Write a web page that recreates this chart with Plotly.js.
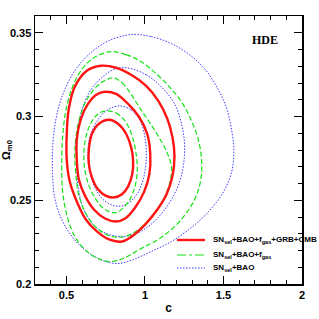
<!DOCTYPE html>
<html><head><meta charset="utf-8">
<script src="https://cdn.plot.ly/plotly-3.0.1.min.js"></script>
<style>html,body{margin:0;padding:0;background:#fff;}#chart{width:319px;height:319px;}</style>
</head><body><div id="chart"></div>
<script>
// Series labels
const seriesNames = ["SN<sub>sel</sub>+BAO+f<sub>gas</sub>+GRB+CMB", "SN<sub>sel</sub>+BAO+f<sub>gas</sub>", "SN<sub>sel</sub>+BAO"];
const modelLabel = "HDE";
const xTicks = [0.5, 1, 1.5, 2];
const yTicks = [0.2, 0.25, 0.3, 0.35];

// SN+BAO+fgas+GRB+CMB (red) contours: 1, 2, 3 sigma
const redC1  = [0.771,0.829,0.880,0.912,0.925,0.919,0.893,0.854,0.803,0.746,0.701,0.662,0.643,0.643,0.662,0.707];
const redOm1 = [0.2981,0.2957,0.2897,0.2817,0.2733,0.2655,0.2583,0.2536,0.2517,0.2529,0.2565,0.2637,0.2715,0.2805,0.2895,0.2957];
const redC2  = [0.739,0.816,0.899,0.963,1.015,1.034,1.028,0.996,0.938,0.874,0.816,0.746,0.675,0.617,0.579,0.566,0.566,0.592,0.637,0.688];
const redOm2 = [0.3147,0.3135,0.3069,0.2997,0.2895,0.2775,0.2655,0.2553,0.2457,0.2391,0.2373,0.2391,0.2445,0.2529,0.2625,0.2745,0.2865,0.2985,0.3075,0.3129];
const redC3  = [0.720,0.816,0.912,1.008,1.085,1.143,1.175,1.188,1.175,1.137,1.079,1.002,0.925,0.854,0.771,0.694,0.624,0.566,0.521,0.502,0.502,0.515,0.553,0.630];
const redOm3 = [0.3303,0.3291,0.3249,0.3183,0.3093,0.2985,0.2877,0.2763,0.2643,0.2535,0.2445,0.2356,0.2290,0.2254,0.2266,0.2314,0.2385,0.2493,0.2613,0.2745,0.2895,0.3045,0.3177,0.3273];

// SN+BAO+fgas (green) contours
const greenC1  = [0.752,0.816,0.874,0.919,0.944,0.951,0.931,0.887,0.816,0.746,0.688,0.643,0.617,0.611,0.624,0.656,0.701];
const greenOm1 = [0.3033,0.3021,0.2973,0.2883,0.2775,0.2667,0.2565,0.2481,0.2427,0.2445,0.2505,0.2589,0.2685,0.2775,0.2877,0.2961,0.3015];
const greenC2  = [0.797,0.854,0.906,0.963,1.028,1.092,1.143,1.169,1.156,1.117,1.053,0.976,0.893,0.829,0.752,0.681,0.624,0.579,0.560,0.553,0.566,0.598,0.649,0.720];
const greenOm2 = [0.3231,0.3201,0.3141,0.3057,0.2967,0.2871,0.2781,0.2697,0.2595,0.2505,0.2415,0.2338,0.2290,0.2278,0.2296,0.2346,0.2421,0.2529,0.2655,0.2775,0.2913,0.3033,0.3129,0.3201];
const greenC3  = [0.784,0.880,0.976,1.072,1.156,1.233,1.297,1.342,1.361,1.354,1.310,1.220,1.104,0.976,0.861,0.784,0.701,0.617,0.547,0.502,0.476,0.470,0.476,0.496,0.534,0.592,0.675];
const greenOm3 = [0.3387,0.3369,0.3327,0.3255,0.3177,0.3087,0.2973,0.2853,0.2733,0.2613,0.2493,0.2373,0.2278,0.2212,0.2152,0.2134,0.2152,0.2206,0.2296,0.2415,0.2553,0.2715,0.2877,0.3033,0.3165,0.3273,0.3351];

// SN+BAO (blue) contours
const blueC1  = [0.835,0.912,0.970,1.002,1.008,0.989,0.944,0.867,0.797,0.733,0.681,0.649,0.637,0.649,0.688,0.752];
const blueOm1 = [0.3063,0.3039,0.2973,0.2865,0.2745,0.2625,0.2529,0.2469,0.2469,0.2505,0.2577,0.2673,0.2775,0.2877,0.2961,0.3033];
const blueC2  = [0.880,1.008,1.104,1.188,1.233,1.252,1.246,1.220,1.169,1.104,1.021,0.931,0.848,0.771,0.688,0.617,0.579,0.566,0.566,0.579,0.611,0.669,0.739,0.797];
const blueOm2 = [0.3291,0.3249,0.3177,0.3077,0.2955,0.2835,0.2715,0.2607,0.2505,0.2418,0.2343,0.2296,0.2284,0.2296,0.2338,0.2430,0.2553,0.2685,0.2817,0.2955,0.3075,0.3177,0.3243,0.3279];
const blueC3  = [0.912,1.040,1.169,1.284,1.380,1.457,1.515,1.547,1.566,1.553,1.502,1.406,1.297,1.169,1.040,0.925,0.829,0.733,0.630,0.540,0.470,0.425,0.412,0.412,0.431,0.476,0.553,0.656,0.771];
const blueOm3 = [0.3489,0.3477,0.3435,0.3369,0.3285,0.3177,0.3063,0.2943,0.2805,0.2673,0.2553,0.2433,0.2338,0.2254,0.2194,0.2146,0.2122,0.2140,0.2194,0.2278,0.2385,0.2517,0.2655,0.2805,0.2973,0.3129,0.3273,0.3381,0.3453];

const styles = [
  {color:'rgb(255,20,20)', width:2.4, dash:'solid'},
  {color:'rgb(20,225,20)', width:1.2, dash:'5px,2.5px'},
  {color:'rgb(60,60,255)', width:1, dash:'1.5px,1.5px'}
];
const groups = [
  [[blueC1,blueOm1],[blueC2,blueOm2],[blueC3,blueOm3]],
  [[greenC1,greenOm1],[greenC2,greenOm2],[greenC3,greenOm3]],
  [[redC1,redOm1],[redC2,redOm2],[redC3,redOm3]]
];
const order = [2,1,0];
const traces = [];
groups.forEach((g, gi) => {
  const si = order[gi];
  g.forEach(([xs, ys]) => {
    traces.push({
      type:'scatter', mode:'lines', name: seriesNames[si],
      x: xs.concat([xs[0]]), y: ys.concat([ys[0]]),
      line: {color: styles[si].color, width: styles[si].width, dash: styles[si].dash, shape:'spline', smoothing:1},
      showlegend:false, hoverinfo:'skip'
    });
  });
});

const fontBold = {family:'Liberation Sans, Arial, sans-serif', size:11, color:'black', weight:'bold'};
const L = 35, R = 302, T = 16, B = 284;
const px = v => (v - L) / (R - L);
const py = v => (B - v) / (B - T);
const legendY = [240, 255, 268];
const shapes = legendY.map((yy, i) => ({
  type:'line', xref:'paper', yref:'paper', x0: px(177), x1: px(205), y0: py(yy), y1: py(yy),
  line: {color: styles[i].color, width: styles[i].width, dash: i===1 ? '9px,3px,3px,3px' : styles[i].dash}
}));
const annotations = legendY.map((yy, i) => ({
  xref:'paper', yref:'paper', x: px(211), y: py(yy), xanchor:'left', yanchor:'middle',
  text: '<b>' + seriesNames[i] + '</b>', showarrow:false,
  font: {family:'Liberation Sans, Arial, sans-serif', size:8, color:'black'}
}));
annotations.push({
  xref:'paper', yref:'paper', x: px(265), y: py(40), xanchor:'center', yanchor:'middle',
  text: '<b>' + modelLabel + '</b>', showarrow:false,
  font: {family:'Liberation Serif, Times New Roman, serif', size:12, color:'black'}
});

const axisCommon = {
  showline:true, linecolor:'black', linewidth:1.5, mirror:'ticks',
  ticks:'inside', ticklen:8, tickwidth:1, tickcolor:'black',
  showgrid:false, zeroline:false, tickfont: fontBold
};
const layout = {
  width:319, height:319,
  margin:{l:L, r:319-R, t:T, b:319-B, pad:0},
  paper_bgcolor:'white', plot_bgcolor:'white',
  showlegend:false,
  xaxis: Object.assign({}, axisCommon, {
    range:[0.3, 2], tickmode:'array', tickvals: xTicks,
    minor:{tickmode:'linear', tick0:0.3, dtick:0.1, ticks:'inside', ticklen:4, tickcolor:'black', tickwidth:1},
    title:{text:'<b>c</b>', font:{family:'Liberation Sans, Arial, sans-serif', size:12, color:'black'}, standoff:4}
  }),
  yaxis: Object.assign({}, axisCommon, {
    range:[0.2, 0.36], tickmode:'array', tickvals: yTicks,
    minor:{tickmode:'linear', tick0:0.2, dtick:0.01, ticks:'inside', ticklen:4, tickcolor:'black', tickwidth:1},
    title:{text:'<b>Ω<sub>m0</sub></b>', font:{family:'Liberation Sans, Arial, sans-serif', size:11, color:'black'}, standoff:2}
  }),
  shapes: shapes,
  annotations: annotations
};
Plotly.newPlot('chart', traces, layout, {staticPlot:true, displayModeBar:false});
</script></body></html>
